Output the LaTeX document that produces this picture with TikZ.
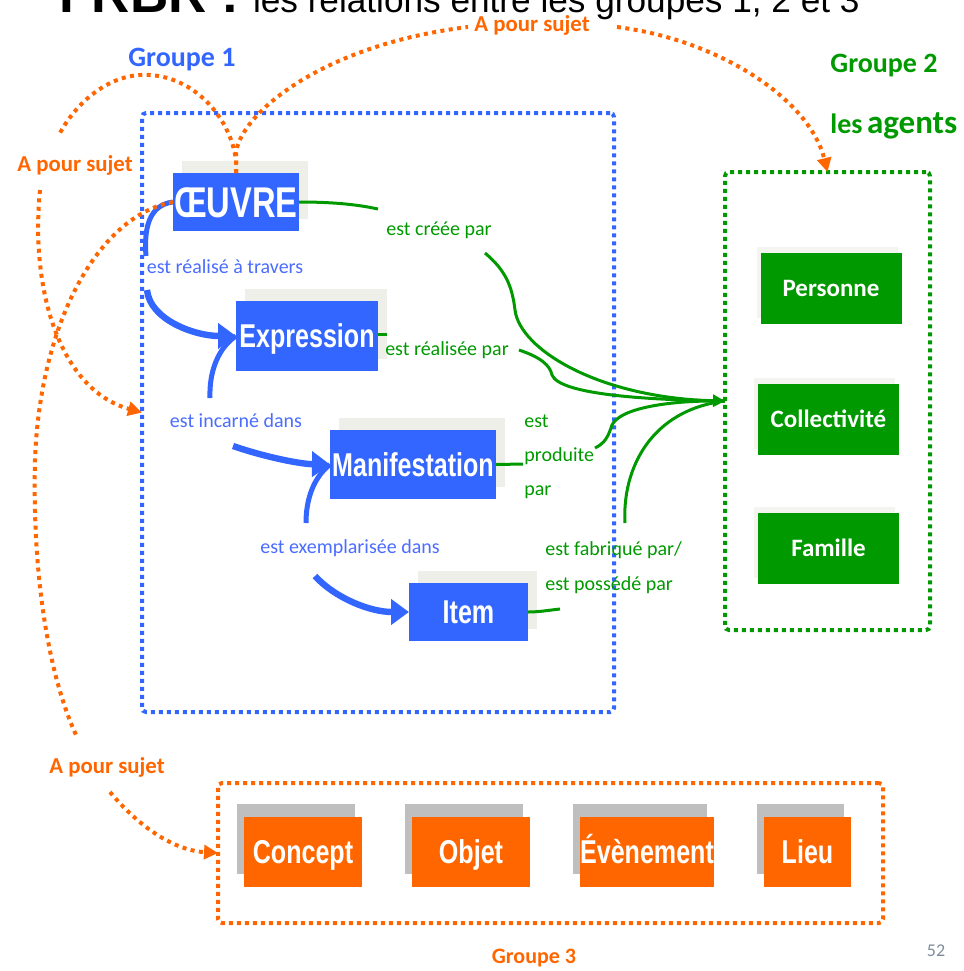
\documentclass[tikz,border=0pt]{standalone}
\usepackage{fontspec}
\setmainfont{Carlito}
\newfontfamily\boxfont[FakeStretch=0.76]{Liberation Sans}
\newfontfamily\titlefont{Liberation Sans}
\usetikzlibrary{arrows.meta,shadows}
\definecolor{fblue}{HTML}{3366FF}
\definecolor{lblue}{HTML}{4A6CFF}
\definecolor{fgreen}{HTML}{009900}
\definecolor{forange}{HTML}{FF6600}
\definecolor{shlight}{HTML}{EFEFEA}
\definecolor{shgreen}{HTML}{F4F4F1}
\definecolor{shgray}{HTML}{BFBFBF}
\definecolor{pagenum}{HTML}{7F8C99}
\begin{document}
\begin{tikzpicture}[x=0.5pt,y=-0.5pt,
  boxtxt/.style={font=\boxfont\bfseries\fontsize{16.5}{18}\selectfont, text=white, inner sep=0pt, outer sep=0pt, text height=11.9pt, text depth=0pt},
  bnode/.style={boxtxt, fill=fblue, drop shadow={opacity=1, fill=shlight, shadow xshift=4.5pt, shadow yshift=6pt}},
  onode/.style={boxtxt, fill=forange, minimum height=35pt, drop shadow={opacity=1, fill=shgray, shadow xshift=-3.75pt, shadow yshift=6.5pt}},
  gnode/.style={font=\bfseries\fontsize{12.5}{14}\selectfont, text=white, fill=fgreen, inner sep=0pt, outer sep=0pt, text height=8pt, text depth=0pt, minimum width=70.5pt, minimum height=35.5pt, drop shadow={opacity=1, fill=shgreen, shadow xshift=-2pt, shadow yshift=3pt}},
  grpbox/.style={line width=2pt, dash pattern=on 2pt off 2pt, inner sep=0pt, outer sep=0pt, rounded corners=2pt},
  blab/.style={font=\fontsize{10}{12}\selectfont, text=lblue, inner sep=0pt},
  glab/.style={font=\fontsize{10}{12}\selectfont, text=fgreen, inner sep=0pt},
  olab/.style={font=\bfseries\fontsize{11.4}{13}\selectfont, text=forange, inner sep=0pt},
  grplab/.style={font=\bfseries\fontsize{14}{16}\selectfont, inner sep=0pt, anchor=base},
  barrow/.style={draw=fblue, line width=2.5pt},
  bhead/.style={draw=fblue, line width=3.2pt, -{Triangle[length=9pt,width=12.5pt]}},
  garrow/.style={draw=fgreen, line width=1.5pt},
  oarrow/.style={draw=forange, line width=2pt, dash pattern=on 2pt off 2.2pt},
  ohead/.style={oarrow, -{Triangle[length=7pt,width=7pt]}},
]
\useasboundingbox (0,0) rectangle (964,971);
\clip (0,0) rectangle (964,971);

% title (cut by the top edge)
\node[anchor=base west, inner sep=0pt, font=\titlefont\bfseries\fontsize{26.5}{28}\selectfont] (ttla) at (59,12) {FRBR :};
\node[anchor=base east, inner sep=0pt, font=\titlefont\fontsize{17.6}{20}\selectfont] (ttlb) at (860,12) {les relations entre les groupes 1, 2 et 3};

% group frames
\node[grpbox, draw=fblue, minimum width=236pt, minimum height=299.5pt] (g1) at (378,412.5) {};
\node[grpbox, draw=fgreen, minimum width=102.5pt, minimum height=229pt] (g2) at (827.5,401) {};
\node[grpbox, draw=forange, minimum width=332.5pt, minimum height=70pt] (g3) at (550.5,853) {};

% group labels
\node[grplab, text=fblue] (lg1) at (182,66) {Groupe 1};
\node[grplab, text=fgreen] (lg2) at (884,72) {Groupe 2};
\node[anchor=base west, inner sep=0pt, text=fgreen] (lg2b) at (830,133) {{\bfseries\fontsize{14}{16}\selectfont les} {\bfseries\fontsize{16.5}{20}\selectfont agents}};
\node[font=\bfseries\fontsize{11}{13}\selectfont, text=forange, inner sep=0pt] (lg3) at (534,958) {Groupe 3};
\node[font=\fontsize{9}{10}\selectfont, text=pagenum, inner sep=0pt] (pnum) at (936,951) {52};

% group 1 entities
\node[bnode, minimum width=63pt, minimum height=29pt, font=\boxfont\bfseries\fontsize{21.5}{23}\selectfont, text height=15.5pt] (oeuvre) at (236,202) {ŒUVRE};
\node[bnode, minimum width=71pt, minimum height=35pt] (expr) at (307,336) {Expression};
\node[bnode, minimum width=83pt, minimum height=34.5pt] (manif) at (413,464.5) {Manifestation};
\node[bnode, minimum width=59.5pt, minimum height=29pt] (item) at (468.5,612) {Item};

% group 2 entities
\node[gnode] (pers) at (831,288.5) {Personne};
\node[gnode] (coll) at (828.5,419.5) {Collectivité};
\node[gnode] (fam) at (828.5,548) {Famille};

% group 3 entities
\node[onode, minimum width=59pt] (concept) at (303,852) {Concept};
\node[onode, minimum width=59pt] (objet) at (471,852) {Objet};
\fill[gray!75] (573,827) rectangle (580,853);
\node[onode, minimum width=67pt] (even) at (647,852) {Évènement};
\node[onode, minimum width=43.5pt] (lieu) at (807.5,852) {Lieu};

% relation labels
\node[blab] (l1) at (225,267) {est réalisé à travers};
\node[blab] (l2) at (236,421) {est incarné dans};
\node[blab] (l3) at (350,548) {est exemplarisée dans};
\node[glab] (l4) at (439,230) {est créée par};
\node[glab] (l5) at (447,350) {est réalisée par};
\node[glab, align=left, anchor=west, font=\fontsize{10}{17}\selectfont] (l6) at (524,457) {est\\produite\\par};
\node[glab, align=left, anchor=west, font=\fontsize{10}{17.5}\selectfont] (l7) at (545,568) {est fabriqué par/\\est possédé par};
\node[olab] (ap1) at (532,25) {A pour sujet};
\node[olab] (ap2) at (75,165) {A pour sujet};
\node[olab] (ap3) at (107,767) {A pour sujet};

% free ends of the broken connectors
\coordinate (b1a) at (146,256);  \coordinate (b1b) at (147,290);
\coordinate (b2a) at (210,398);  \coordinate (b2b) at (233,446);
\coordinate (b3a) at (306,523);  \coordinate (b3b) at (315,576);
\coordinate (g1a) at (378,209);  \coordinate (g1b) at (485,253);
\coordinate (g2a) at (387,334);  \coordinate (g2b) at (519,350);
\coordinate (g3a) at (523,464);  \coordinate (g3b) at (595,448);
\coordinate (g4a) at (560,609);  \coordinate (g4b) at (625,523);
\coordinate (o1a) at (468,27);   \coordinate (o1b) at (617,27);
\coordinate (o2a) at (60,133);   \coordinate (o2b) at (40,190);
\coordinate (o3a) at (77,737);   \coordinate (o3b) at (110,792);

% group 1 chain (blue)
\draw[barrow] (oeuvre.west) .. controls (148,205) and (144,230) .. (b1a);
\draw[bhead] (b1b) .. controls (150,320) and (195,336) .. (expr.west);
\draw[barrow] (expr.west) .. controls (218,348) and (209,372) .. (b2a);
\draw[bhead] (b2b) .. controls (265,457) and (300,464) .. (manif.west);
\draw[barrow] (manif.west) .. controls (313,478) and (306,500) .. (b3a);
\draw[bhead] (b3b) .. controls (335,598) and (370,612) .. (item.west);

% links to group 2 (green)
\draw[garrow] (oeuvre.east) .. controls (330,202) and (355,204) .. (g1a);
\draw[garrow, -{Triangle[length=6pt,width=6pt]}] (g1b) .. controls (505,270) and (512,285) .. (515,310) .. controls (520,350) and (600,398) .. (g2.west);
\draw[garrow] (expr.east |- g2a) -- (g2a);
\draw[garrow] (g2b) .. controls (540,357) and (550,365) .. (552,375) .. controls (560,395) and (650,400) .. (g2.west);
\draw[garrow] (manif.east) -- (g3a);
\draw[garrow] (g3b) .. controls (605,443) and (608,437) .. (612,425) .. controls (620,408) and (670,400) .. (g2.west);
\draw[garrow] (item.east) .. controls (540,612) and (550,610) .. (g4a);
\draw[garrow] (g4b) .. controls (622,470) and (650,410) .. (g2.west);

% "A pour sujet" (orange)
\draw[oarrow] (oeuvre.north) -- (236,153) .. controls (240,115) and (320,45) .. (o1a);
\draw[ohead] (o1b) .. controls (720,40) and (810,100) .. (g2.north);
\draw[oarrow] (oeuvre.north) -- (236,160) .. controls (230,115) and (190,72) .. (140,75) .. controls (105,77) and (75,105) .. (o2a);
\draw[ohead] (o2b) .. controls (30,290) and (60,390) .. (g1.west);
\draw[oarrow] (oeuvre.west) .. controls (100,215) and (40,320) .. (35,460) .. controls (32,580) and (50,680) .. (o3a);
\draw[ohead] (o3b) .. controls (135,822) and (170,850) .. (g3.west);
\end{tikzpicture}
\end{document}
